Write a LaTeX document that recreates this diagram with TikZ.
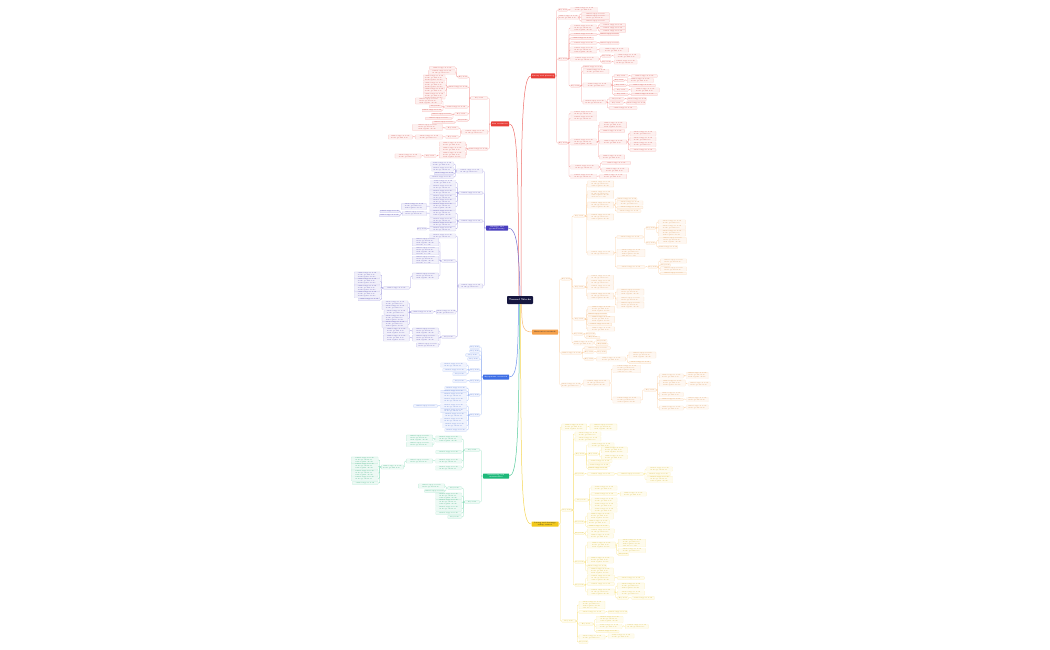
\documentclass[tikz,border=0pt]{standalone}
\usepackage{tikz}

\definecolor{cRoot}{HTML}{15163F}
\definecolor{cRed}{HTML}{E8403A}
\definecolor{cOrange}{HTML}{F5A04A}
\definecolor{cYellow}{HTML}{F2C81B}
\definecolor{cIndigo}{HTML}{4A3FBF}
\definecolor{cBlue}{HTML}{3E6FE6}
\definecolor{cGreen}{HTML}{1DB97A}

\newcommand\leaftext[1]{\ifcase#1 Key item\or tunnel support work\or tunnel support work\\in the ground zone\or tunnel support work\\in the ground zone\\with regular checks\or tunnel support work\\in the ground zone\\with regular checks\\and site records\fi}
\newcommand\rkid[6]{%
  \node[leaf=#1, anchor=west, xshift=3pt, minimum width=#5pt] (#3) at (#2.east |- 0,#4) {\leaftext{#6}};
  \draw[link=#1] (#2.east) -- ++(1.5pt,0) |- (#3.west);}
\newcommand\lkid[6]{%
  \node[leaf=#1, anchor=east, xshift=-3pt, minimum width=#5pt] (#3) at (#2.west |- 0,#4) {\leaftext{#6}};
  \draw[link=#1] (#2.west) -- ++(-1.5pt,0) |- (#3.east);}

\begin{document}
\begin{tikzpicture}[
        x=1pt, y=-1pt,
        leaf/.style={draw=#1!35, fill=#1!8, text=#1!85!black, line width=0.15pt,
                     rounded corners=0.4pt, inner sep=0.5pt, align=left,
                     minimum height=2.6pt, font=\fontsize{1.5}{1.9}\selectfont},
        link/.style={draw=#1!50, line width=0.25pt, rounded corners=0.8pt},
        mainbox/.style={fill=#1, text=white, inner sep=0.6pt, rounded corners=0.5pt,
                        align=center, minimum height=5pt,
                        font=\fontsize{1.6}{2}\selectfont\bfseries},
        rootbox/.style={fill=cRoot, text=white, rounded corners=0.8pt,
                        minimum width=26pt, minimum height=8pt, inner sep=0.8pt,
                        font=\fontsize{2.4}{3}\selectfont\bfseries},
        trunk/.style={draw=#1!75, line width=0.5pt}
    ]
    \useasboundingbox (0,0) rectangle (1050,650);

    \node[rootbox] (root) at (520,300) {Tunnel Works};
    \node[mainbox=cRed, minimum width=24pt] (R1) at (543,76) {Survey and planning};
    \node[mainbox=cOrange, text=black!80, minimum width=26pt] (O) at (545,332) {Excavation methods};
    \node[mainbox=cYellow, text=black!80, minimum width=27pt] (Y) at (545,524) {Lining and drainage\\safety control};
    \node[mainbox=cRed, minimum width=18pt] (L1) at (500,124) {Site conditions};
    \node[mainbox=cIndigo, minimum width=22pt] (L2) at (497,228) {Geology and\\ground survey};
    \node[mainbox=cBlue, minimum width=26pt] (L3) at (496,377) {Equipment, materials};
    \node[mainbox=cGreen, minimum width=26pt] (L4) at (496,476) {Monitoring and\\maintenance};

    \draw[trunk=cRed] ([xshift=1pt]root.north) .. controls (521,150) and (521,76) .. (R1.west);
    \draw[trunk=cRed] ([xshift=-1pt]root.north) .. controls (518,170) and (518,124) .. (L1.east);
    \draw[trunk=cIndigo] (root.north) .. controls (519,250) and (517,228) .. (L2.east);
    \draw[trunk=cOrange] ([xshift=1.5pt]root.south) .. controls (522,325) and (522,332) .. (O.west);
    \draw[trunk=cBlue] ([xshift=-1.5pt]root.south) .. controls (518,360) and (517,377) .. (L3.east);
    \draw[trunk=cGreen] ([xshift=-0.5pt]root.south) .. controls (519,440) and (517,476) .. (L4.east);
    \draw[trunk=cYellow] ([xshift=0.5pt]root.south) .. controls (521,480) and (521,524) .. (Y.west);

    % survey and planning
    \rkid{cRed}{R1}{r1}{10}{8}{0}
    \rkid{cRed}{r1}{r2}{9.5}{27}{2}
    \rkid{cRed}{R1}{r3}{17.5}{20}{2}
    \rkid{cRed}{r3}{r4}{14}{28}{1}
    \rkid{cRed}{r3}{r5}{17.5}{28}{2}
    \rkid{cRed}{r3}{r6}{21}{28}{1}
    \rkid{cRed}{R1}{r7}{59}{6}{0}
    \rkid{cRed}{r7}{r8}{28}{26}{3}
    \rkid{cRed}{r8}{r9}{25}{26}{1}
    \rkid{cRed}{r8}{r10}{28}{26}{1}
    \rkid{cRed}{r8}{r11}{31}{26}{1}
    \rkid{cRed}{r7}{r12}{34.5}{26}{1}
    \rkid{cRed}{r12}{r13}{34.5}{16}{1}
    \rkid{cRed}{r7}{r14}{38.5}{23}{1}
    \rkid{cRed}{r7}{r15}{43}{26}{1}
    \rkid{cRed}{r15}{r16}{43}{19}{1}
    \rkid{cRed}{r7}{r17}{50}{26}{3}
    \rkid{cRed}{r17}{r18}{50}{29}{2}
    \rkid{cRed}{r7}{r19}{59}{28}{2}
    \rkid{cRed}{r19}{r20}{56}{6}{0}
    \rkid{cRed}{r20}{r21}{56}{26}{2}
    \rkid{cRed}{r19}{r22}{62}{8}{0}
    \rkid{cRed}{r22}{r23}{62}{23}{2}
    \rkid{cRed}{r7}{r24}{86}{6}{0}
    \rkid{cRed}{r24}{r25}{67}{18}{1}
    \rkid{cRed}{r24}{r26}{71.5}{26}{2}
    \rkid{cRed}{r24}{r27}{85}{28}{2}
    \rkid{cRed}{r27}{r28}{76}{14}{0}
    \rkid{cRed}{r28}{r29}{76}{26}{1}
    \rkid{cRed}{r27}{r30}{80.5}{10}{0}
    \rkid{cRed}{r30}{r31}{80.5}{26}{2}
    \rkid{cRed}{r27}{r32}{85.5}{12}{0}
    \rkid{cRed}{r32}{r33}{85.5}{26}{1}
    \rkid{cRed}{r27}{r34}{90}{14}{0}
    \rkid{cRed}{r34}{r35}{90}{28}{2}
    \rkid{cRed}{r27}{r36}{94.5}{14}{0}
    \rkid{cRed}{r36}{r37}{94.5}{26}{1}
    \rkid{cRed}{r24}{r38}{102}{23}{2}
    \rkid{cRed}{r38}{r39}{99}{15}{0}
    \rkid{cRed}{r39}{r40}{99}{16}{1}
    \rkid{cRed}{r38}{r41}{103}{14}{0}
    \rkid{cRed}{r41}{r42}{103}{16}{1}
    \rkid{cRed}{r38}{r43}{108}{28}{1}
    \rkid{cRed}{R1}{r44}{143}{6}{0}
    \rkid{cRed}{r44}{r45}{113.5}{26}{2}
    \rkid{cRed}{r44}{r46}{118.5}{26}{2}
    \rkid{cRed}{r44}{r47}{142}{26}{3}
    \rkid{cRed}{r47}{r48}{125}{27}{3}
    \rkid{cRed}{r47}{r49}{131}{25}{1}
    \rkid{cRed}{r47}{r50}{142}{27}{2}
    \rkid{cRed}{r50}{r51}{133.5}{26}{2}
    \rkid{cRed}{r50}{r52}{139}{26}{2}
    \rkid{cRed}{r50}{r53}{144.5}{26}{2}
    \rkid{cRed}{r50}{r54}{150}{26}{1}
    \rkid{cRed}{r47}{r55}{157}{25}{2}
    \rkid{cRed}{r44}{r56}{167}{28}{2}
    \rkid{cRed}{r56}{r57}{163}{29}{1}
    \rkid{cRed}{r56}{r58}{170}{27}{2}
    \rkid{cRed}{r44}{r59}{176.5}{26}{2}
    \rkid{cRed}{r59}{r60}{176.5}{27}{2}

    % excavation methods
    \rkid{cOrange}{O}{o1}{279}{7}{0}
    \rkid{cOrange}{o1}{o2}{216}{11}{0}
    \rkid{cOrange}{o2}{o3}{184}{26}{3}
    \rkid{cOrange}{o2}{o4}{194.5}{26}{4}
    \rkid{cOrange}{o2}{o5}{205}{26}{3}
    \rkid{cOrange}{o5}{o6}{199}{20}{1}
    \rkid{cOrange}{o5}{o7}{203}{26}{2}
    \rkid{cOrange}{o5}{o8}{207.5}{26}{1}
    \rkid{cOrange}{o5}{o9}{211}{24}{1}
    \rkid{cOrange}{o2}{o10}{217}{26}{3}
    \rkid{cOrange}{o2}{o11}{253}{26}{2}
    \rkid{cOrange}{o11}{o12}{237}{26}{1}
    \rkid{cOrange}{o12}{o13}{228}{8}{0}
    \rkid{cOrange}{o13}{o14}{222}{27}{2}
    \rkid{cOrange}{o13}{o15}{227.5}{27}{2}
    \rkid{cOrange}{o13}{o16}{233}{27}{3}
    \rkid{cOrange}{o12}{o17}{243}{5}{0}
    \rkid{cOrange}{o17}{o18}{240.5}{28}{3}
    \rkid{cOrange}{o17}{o19}{247}{14}{1}
    \rkid{cOrange}{o11}{o20}{253}{28}{4}
    \rkid{cOrange}{o11}{o21}{267}{28}{1}
    \rkid{cOrange}{o21}{o22}{267}{8}{0}
    \rkid{cOrange}{o22}{o23}{261}{26}{2}
    \rkid{cOrange}{o22}{o24}{265}{10}{0}
    \rkid{cOrange}{o22}{o25}{269}{26}{2}
    \rkid{cOrange}{o22}{o26}{273.5}{26}{1}
    \rkid{cOrange}{o1}{o27}{287}{11}{0}
    \rkid{cOrange}{o27}{o28}{277.5}{26}{2}
    \rkid{cOrange}{o27}{o29}{282.5}{26}{2}
    \rkid{cOrange}{o27}{o30}{287.5}{26}{2}
    \rkid{cOrange}{o27}{o31}{296}{26}{3}
    \rkid{cOrange}{o31}{o32}{292}{27}{3}
    \rkid{cOrange}{o31}{o33}{299}{27}{2}
    \rkid{cOrange}{o31}{o34}{305}{27}{3}
    \rkid{cOrange}{o1}{o35}{319}{11}{0}
    \rkid{cOrange}{o35}{o36}{309.5}{27}{3}
    \rkid{cOrange}{o35}{o37}{314.5}{17}{1}
    \rkid{cOrange}{o35}{o38}{319.5}{27}{3}
    \rkid{cOrange}{o35}{o39}{324.5}{24}{1}
    \rkid{cOrange}{o35}{o40}{329}{27}{2}
    \rkid{cOrange}{o1}{o41}{334}{7}{0}
    \rkid{cOrange}{o41}{o42}{334}{6}{0}
    \rkid{cOrange}{o41}{o43}{337.5}{14}{0}
    \rkid{cOrange}{o1}{o44}{343}{18}{2}
    \rkid{cOrange}{o44}{o45}{341}{11}{0}
    \rkid{cOrange}{o44}{o46}{344.5}{12}{0}
    \rkid{cOrange}{O}{o47}{353}{20}{1}
    \rkid{cOrange}{o47}{o48}{348}{26}{1}
    \rkid{cOrange}{o47}{o49}{352}{6}{0}
    \rkid{cOrange}{o49}{o50}{352}{10}{0}
    \rkid{cOrange}{o47}{o51}{359}{6}{0}
    \rkid{cOrange}{o51}{o52}{359}{29}{2}
    \rkid{cOrange}{o52}{o53}{355}{27}{3}
    \rkid{cOrange}{o52}{o54}{362.5}{22}{1}
    \rkid{cOrange}{O}{o55}{385}{13}{2}
    \rkid{cOrange}{o55}{o56}{383}{26}{3}
    \rkid{cOrange}{o56}{o57}{369}{28}{4}
    \rkid{cOrange}{o56}{o58}{400}{28}{3}
    \rkid{cOrange}{o58}{o59}{390}{12}{0}
    \rkid{cOrange}{o59}{o60}{376}{24}{2}
    \rkid{cOrange}{o60}{o61}{375.5}{22}{3}
    \rkid{cOrange}{o59}{o62}{383}{26}{3}
    \rkid{cOrange}{o62}{o63}{384}{22}{2}
    \rkid{cOrange}{o59}{o64}{394.5}{24}{2}
    \rkid{cOrange}{o59}{o65}{399.5}{24}{1}
    \rkid{cOrange}{o65}{o66}{399.5}{22}{2}
    \rkid{cOrange}{o59}{o67}{408}{24}{2}
    \rkid{cOrange}{o67}{o68}{407}{22}{2}

    % lining and drainage
    \rkid{cYellow}{Y}{y1}{427}{25}{3}
    \rkid{cYellow}{y1}{y2}{427}{27}{3}
    \rkid{cYellow}{Y}{y3}{510}{10}{0}
    \rkid{cYellow}{y3}{y4}{434}{26}{2}
    \rkid{cYellow}{y3}{y5}{439}{26}{2}
    \rkid{cYellow}{y3}{y6}{454}{10}{0}
    \rkid{cYellow}{y6}{y7}{445}{26}{2}
    \rkid{cYellow}{y6}{y8}{454}{10}{0}
    \rkid{cYellow}{y8}{y9}{450}{26}{3}
    \rkid{cYellow}{y8}{y10}{457}{26}{2}
    \rkid{cYellow}{y6}{y11}{461}{24}{1}
    \rkid{cYellow}{y6}{y12}{465}{22}{1}
    \rkid{cYellow}{y6}{y13}{468.5}{16}{1}
    \rkid{cYellow}{y3}{y14}{474}{9}{0}
    \rkid{cYellow}{y14}{y15}{474}{27}{1}
    \rkid{cYellow}{y15}{y16}{474}{26}{1}
    \rkid{cYellow}{y16}{y17}{469}{26}{2}
    \rkid{cYellow}{y16}{y18}{474}{24}{1}
    \rkid{cYellow}{y16}{y19}{479.5}{26}{3}
    \rkid{cYellow}{y3}{y20}{500}{13}{0}
    \rkid{cYellow}{y20}{y21}{488}{26}{2}
    \rkid{cYellow}{y20}{y22}{494}{26}{1}
    \rkid{cYellow}{y22}{y23}{494}{26}{2}
    \rkid{cYellow}{y20}{y24}{500}{26}{2}
    \rkid{cYellow}{y20}{y25}{505}{26}{2}
    \rkid{cYellow}{y20}{y26}{510}{26}{2}
    \rkid{cYellow}{y3}{y27}{522}{9}{0}
    \rkid{cYellow}{y27}{y28}{516}{26}{3}
    \rkid{cYellow}{y27}{y29}{522}{22}{2}
    \rkid{cYellow}{y27}{y30}{526.5}{22}{1}
    \rkid{cYellow}{y3}{y31}{533.5}{6}{0}
    \rkid{cYellow}{y31}{y32}{531}{27}{2}
    \rkid{cYellow}{y31}{y33}{536}{26}{2}
    \rkid{cYellow}{y3}{y34}{562}{8}{0}
    \rkid{cYellow}{y34}{y35}{545}{28}{3}
    \rkid{cYellow}{y35}{y36}{543}{27}{4}
    \rkid{cYellow}{y35}{y37}{550.5}{27}{2}
    \rkid{cYellow}{y35}{y38}{554.5}{10}{0}
    \rkid{cYellow}{y34}{y39}{560}{26}{3}
    \rkid{cYellow}{y34}{y40}{566}{16}{1}
    \rkid{cYellow}{y34}{y41}{571}{26}{3}
    \rkid{cYellow}{y3}{y42}{585}{8}{0}
    \rkid{cYellow}{y42}{y43}{578}{27}{3}
    \rkid{cYellow}{y43}{y44}{578}{27}{1}
    \rkid{cYellow}{y42}{y45}{584}{27}{1}
    \rkid{cYellow}{y42}{y46}{592}{27}{3}
    \rkid{cYellow}{y46}{y47}{586}{27}{3}
    \rkid{cYellow}{y46}{y48}{593}{27}{2}
    \rkid{cYellow}{y46}{y49}{598}{11}{0}
    \rkid{cYellow}{y49}{y50}{598}{23}{1}
    \rkid{cYellow}{Y}{y51}{621}{14}{0}
    \rkid{cYellow}{y51}{y52}{605}{26}{4}
    \rkid{cYellow}{y51}{y53}{612}{26}{1}
    \rkid{cYellow}{y53}{y54}{612}{16}{1}
    \rkid{cYellow}{y51}{y55}{624}{14}{0}
    \rkid{cYellow}{y55}{y56}{619.5}{27}{3}
    \rkid{cYellow}{y55}{y57}{626.5}{26}{2}
    \rkid{cYellow}{y57}{y58}{626.5}{23}{2}
    \rkid{cYellow}{y55}{y59}{631.5}{23}{1}
    \rkid{cYellow}{y51}{y60}{637}{26}{2}
    \rkid{cYellow}{y60}{y61}{636}{26}{2}
    \rkid{cYellow}{y51}{y62}{642}{6}{0}

    % site conditions
    \lkid{cRed}{L1}{l1}{98}{17}{0}
    \lkid{cRed}{l1}{l2}{77}{7}{0}
    \lkid{cRed}{l2}{l3}{68}{26}{1}
    \lkid{cRed}{l2}{l4}{72.5}{27}{2}
    \lkid{cRed}{l1}{l5}{87}{19}{1}
    \lkid{cRed}{l5}{l6}{78}{22}{3}
    \lkid{cRed}{l5}{l7}{85}{22}{3}
    \lkid{cRed}{l5}{l8}{90.5}{22}{2}
    \lkid{cRed}{l5}{l9}{96}{22}{3}
    \lkid{cRed}{l1}{l10}{107}{23}{1}
    \lkid{cRed}{l10}{l11}{101}{26}{3}
    \lkid{cRed}{l10}{l12}{106.5}{12}{0}
    \lkid{cRed}{l10}{l13}{110.5}{15}{1}
    \lkid{cRed}{l1}{l14}{114}{13}{0}
    \lkid{cRed}{l14}{l15}{114.5}{20}{1}
    \lkid{cRed}{l14}{l16}{118.5}{26}{1}
    \lkid{cRed}{l1}{l17}{120.5}{10}{0}
    \lkid{cRed}{l17}{l18}{122.5}{22}{1}
    \lkid{cRed}{L1}{l19}{132}{26}{2}
    \lkid{cRed}{l19}{l20}{128}{13}{0}
    \lkid{cRed}{l20}{l21}{127.5}{30}{3}
    \lkid{cRed}{l19}{l22}{137}{13}{0}
    \lkid{cRed}{l22}{l23}{137}{27}{2}
    \lkid{cRed}{l23}{l24}{137}{24}{2}
    \lkid{cRed}{L1}{l25}{149}{17}{1}
    \lkid{cRed}{l25}{l26}{144}{26}{2}
    \lkid{cRed}{l25}{l27}{149}{26}{2}
    \lkid{cRed}{l25}{l28}{155}{26}{3}
    \lkid{cRed}{l28}{l29}{156}{12}{0}
    \lkid{cRed}{l29}{l30}{156}{26}{2}

    % geology and ground survey
    \lkid{cIndigo}{L2}{i1}{171}{26}{2}
    \lkid{cIndigo}{i1}{i2}{164}{23}{2}
    \lkid{cIndigo}{i1}{i3}{169}{22}{2}
    \lkid{cIndigo}{i1}{i4}{173.5}{18}{1}
    \lkid{cIndigo}{i1}{i5}{177}{24}{1}
    \lkid{cIndigo}{L2}{i6}{193}{24}{1}
    \lkid{cIndigo}{i6}{i7}{182.5}{25}{2}
    \lkid{cIndigo}{i6}{i8}{187.5}{26}{2}
    \lkid{cIndigo}{i6}{i9}{192.2}{26}{2}
    \lkid{cIndigo}{i6}{i10}{196.8}{26}{2}
    \lkid{cIndigo}{i6}{i11}{201.5}{26}{2}
    \lkid{cIndigo}{i6}{i12}{206.5}{26}{3}
    \lkid{cIndigo}{i12}{i13}{206.5}{25}{3}
    \lkid{cIndigo}{L2}{i14}{221}{24}{1}
    \lkid{cIndigo}{i14}{i15}{213.5}{26}{3}
    \lkid{cIndigo}{i15}{i16}{213.5}{24}{2}
    \lkid{cIndigo}{i16}{i17}{211.5}{16}{1}
    \lkid{cIndigo}{i16}{i18}{215.5}{20}{1}
    \lkid{cIndigo}{i14}{i19}{219.8}{26}{2}
    \lkid{cIndigo}{i14}{i20}{224.3}{26}{2}
    \lkid{cIndigo}{i14}{i21}{228.8}{26}{2}
    \lkid{cIndigo}{i21}{i22}{228.8}{8}{0}
    \lkid{cIndigo}{L2}{i23}{286}{24}{2}
    \lkid{cIndigo}{i23}{i24}{236}{26}{2}
    \lkid{cIndigo}{i23}{i25}{261}{14}{0}
    \lkid{cIndigo}{i25}{i26}{242}{26}{4}
    \lkid{cIndigo}{i25}{i27}{251}{26}{4}
    \lkid{cIndigo}{i25}{i28}{260}{26}{4}
    \lkid{cIndigo}{i25}{i29}{276}{26}{3}
    \lkid{cIndigo}{i29}{i30}{288}{26}{1}
    \lkid{cIndigo}{i30}{i31}{275}{26}{3}
    \lkid{cIndigo}{i30}{i32}{281.5}{26}{3}
    \lkid{cIndigo}{i30}{i33}{288}{26}{3}
    \lkid{cIndigo}{i30}{i34}{294.5}{26}{3}
    \lkid{cIndigo}{i30}{i35}{299.5}{22}{1}
    \lkid{cIndigo}{i23}{i36}{312}{14}{2}
    \lkid{cIndigo}{i36}{i37}{312}{22}{1}
    \lkid{cIndigo}{i37}{i38}{303}{26}{2}
    \lkid{cIndigo}{i37}{i39}{307.5}{26}{2}
    \lkid{cIndigo}{i37}{i40}{312.5}{24}{2}
    \lkid{cIndigo}{i37}{i41}{318.2}{26}{3}
    \lkid{cIndigo}{i37}{i42}{324.5}{26}{3}
    \lkid{cIndigo}{i23}{i43}{337}{14}{0}
    \lkid{cIndigo}{i43}{i44}{331}{26}{3}
    \lkid{cIndigo}{i44}{i45}{331}{26}{3}
    \lkid{cIndigo}{i43}{i46}{338}{26}{3}
    \lkid{cIndigo}{i46}{i47}{338}{26}{3}
    \lkid{cIndigo}{i43}{i48}{345}{22}{2}

    % equipment and materials
    \lkid{cBlue}{L3}{b1}{347}{10}{0}
    \lkid{cBlue}{L3}{b2}{351}{10}{0}
    \lkid{cBlue}{L3}{b3}{355}{14}{0}
    \lkid{cBlue}{L3}{b4}{359}{12}{0}
    \lkid{cBlue}{L3}{b5}{370}{10}{0}
    \lkid{cBlue}{b5}{b6}{365}{26}{2}
    \lkid{cBlue}{b5}{b7}{370}{24}{1}
    \lkid{cBlue}{b5}{b8}{374}{14}{0}
    \lkid{cBlue}{L3}{b9}{381}{10}{0}
    \lkid{cBlue}{b9}{b10}{381}{14}{0}
    \lkid{cBlue}{L3}{b11}{395}{10}{0}
    \lkid{cBlue}{b11}{b12}{388}{22}{1}
    \lkid{cBlue}{b11}{b13}{391.5}{26}{1}
    \lkid{cBlue}{b11}{b14}{395.5}{26}{2}
    \lkid{cBlue}{b11}{b15}{400.5}{26}{2}
    \lkid{cBlue}{L3}{b16}{415}{10}{0}
    \lkid{cBlue}{b16}{b17}{406}{26}{2}
    \lkid{cBlue}{b17}{b18}{406}{24}{1}
    \lkid{cBlue}{b16}{b19}{410.6}{26}{2}
    \lkid{cBlue}{b16}{b20}{415.5}{24}{2}
    \lkid{cBlue}{b16}{b21}{420.5}{26}{2}
    \lkid{cBlue}{b16}{b22}{425.5}{24}{2}
    \lkid{cBlue}{b16}{b23}{430}{22}{1}

    % monitoring and maintenance
    \lkid{cGreen}{L4}{g1}{450}{15}{0}
    \lkid{cGreen}{g1}{g2}{439}{26}{3}
    \lkid{cGreen}{g2}{g3}{438}{26}{3}
    \lkid{cGreen}{g2}{g4}{444.5}{26}{2}
    \lkid{cGreen}{g1}{g5}{452}{26}{1}
    \lkid{cGreen}{g1}{g6}{461}{26}{2}
    \lkid{cGreen}{g6}{g7}{461}{26}{2}
    \lkid{cGreen}{g7}{g8}{467}{22}{2}
    \lkid{cGreen}{g8}{g9}{460}{27}{3}
    \lkid{cGreen}{g8}{g10}{466.5}{27}{3}
    \lkid{cGreen}{g8}{g11}{473}{27}{3}
    \lkid{cGreen}{g8}{g12}{478.5}{27}{2}
    \lkid{cGreen}{g8}{g13}{483}{26}{1}
    \lkid{cGreen}{g1}{g14}{468}{26}{2}
    \lkid{cGreen}{L4}{g15}{502}{15}{0}
    \lkid{cGreen}{g15}{g16}{488}{14}{0}
    \lkid{cGreen}{g16}{g17}{486}{26}{2}
    \lkid{cGreen}{g16}{g18}{491}{20}{1}
    \lkid{cGreen}{g15}{g19}{496}{26}{3}
    \lkid{cGreen}{g15}{g20}{502.5}{26}{3}
    \lkid{cGreen}{g15}{g21}{508.5}{26}{2}
    \lkid{cGreen}{g15}{g22}{513}{26}{1}
    \lkid{cGreen}{g15}{g23}{517}{14}{0}
\end{tikzpicture}
\end{document}
